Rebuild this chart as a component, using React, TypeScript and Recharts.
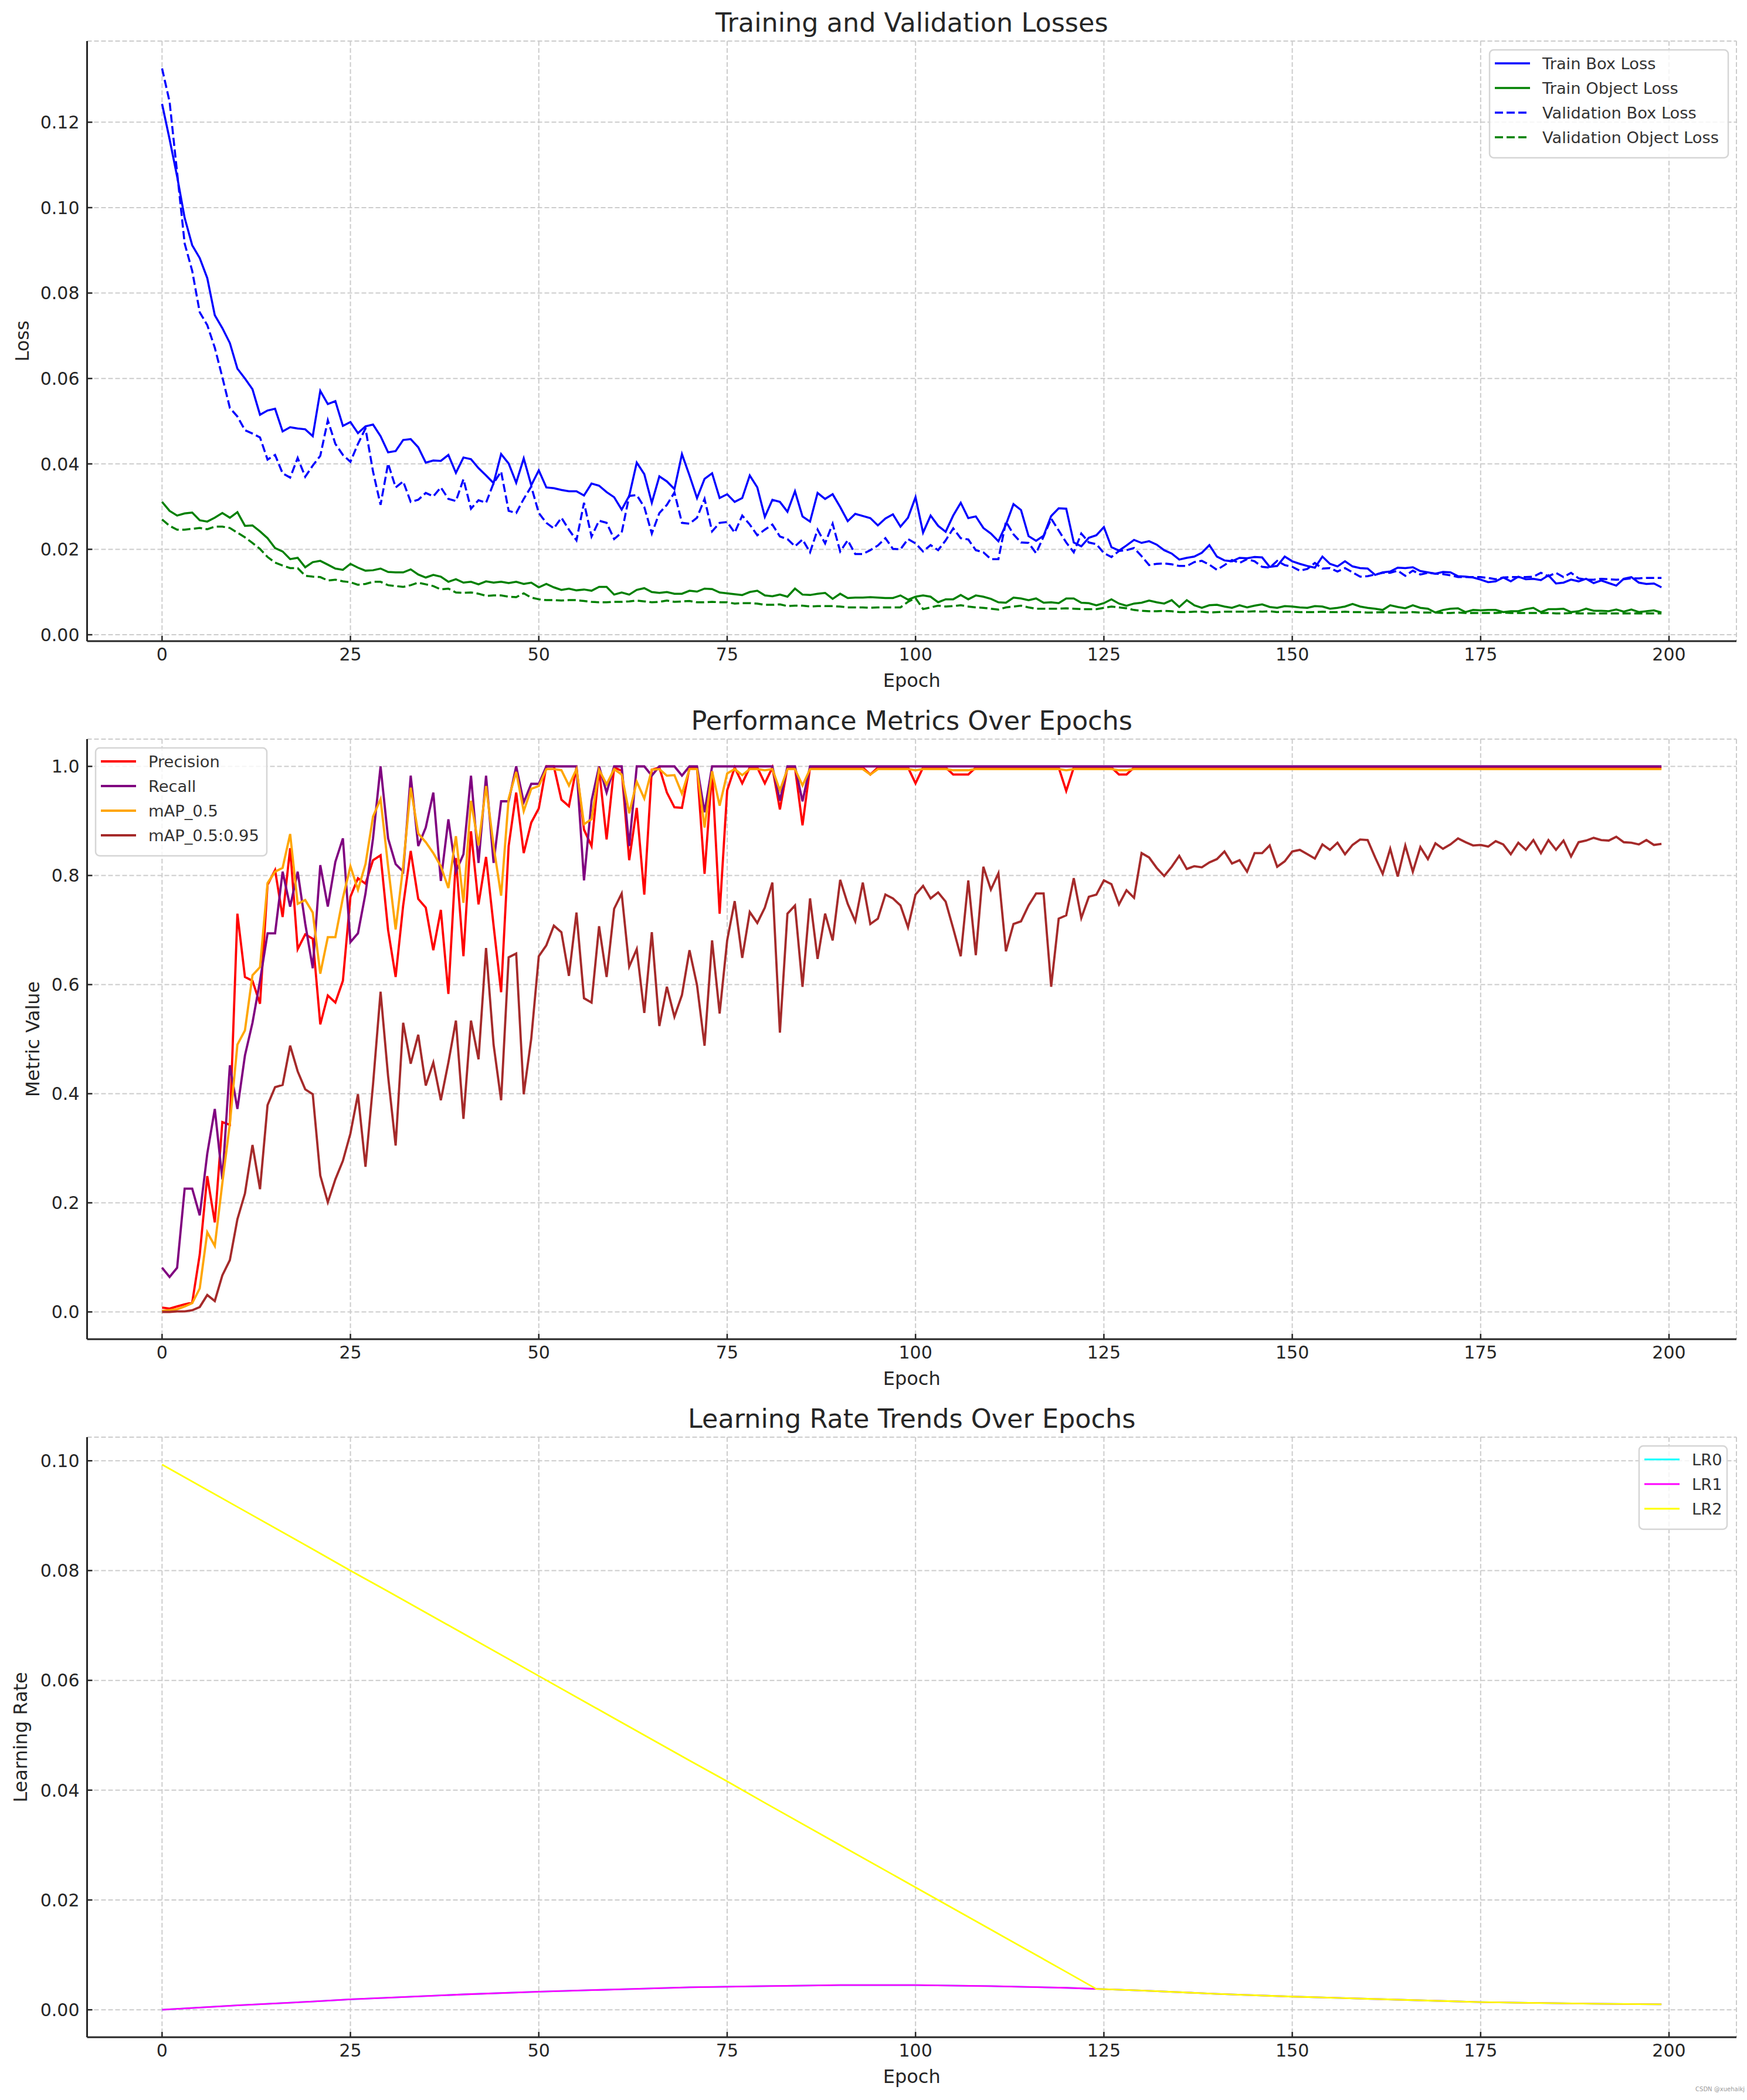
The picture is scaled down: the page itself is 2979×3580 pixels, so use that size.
import React from 'react';
import { CartesianGrid, Line, LineChart, XAxis, YAxis } from 'recharts';

const FONT = "'DejaVu Sans', 'Noto Sans', sans-serif";
const TEXT = '#262626';
const AXIS = '#262626';
const GRID = '#cccccc';

const W = 2979;
const PANEL_H = 1190;

// epochs 0..199
const epochs = Array.from({ length: 200 }, (_, i) => i);

const trainBoxLoss = [
  0.1243, 0.116, 0.1073, 0.0976, 0.0912, 0.0882, 0.0835, 0.0748, 0.0718, 0.0683,
  0.0623, 0.06, 0.0575, 0.0515, 0.0525, 0.0529, 0.0476, 0.0486, 0.0483, 0.0481,
  0.0465, 0.0571, 0.054, 0.0547, 0.0489, 0.0498, 0.0472, 0.0488, 0.0492, 0.0465,
  0.0427, 0.043, 0.0456, 0.0458, 0.0439, 0.0403, 0.0408, 0.0407, 0.0421, 0.0379,
  0.0415, 0.0411, 0.039, 0.0373, 0.0355, 0.0423, 0.0401, 0.0356, 0.0413, 0.035,
  0.0385, 0.0345, 0.0343, 0.0339, 0.0336, 0.0336, 0.0326, 0.0354, 0.0349, 0.0334,
  0.0322, 0.0293, 0.0325, 0.0403, 0.0376, 0.0309, 0.0371, 0.0359, 0.0341, 0.0423,
  0.0373, 0.032, 0.0365, 0.0378, 0.032, 0.0329, 0.0311, 0.032, 0.0373, 0.0345,
  0.0276, 0.0316, 0.0311, 0.0288, 0.0336, 0.0277, 0.0265, 0.0332, 0.0318, 0.0329,
  0.0299, 0.0266, 0.0283, 0.0278, 0.0273, 0.0256, 0.0272, 0.0282, 0.0253, 0.0274,
  0.0322, 0.0239, 0.0279, 0.0255, 0.0241, 0.0279, 0.0309, 0.0273, 0.0277, 0.025,
  0.0237, 0.0219, 0.0258, 0.0306, 0.0292, 0.0231, 0.022, 0.0232, 0.0278, 0.0296,
  0.0295, 0.0216, 0.0207, 0.0227, 0.0233, 0.0252, 0.0205, 0.0197, 0.0209, 0.0222,
  0.0215, 0.0219, 0.0211, 0.0198, 0.019, 0.0176, 0.018, 0.0183, 0.0192, 0.021,
  0.0183, 0.0174, 0.0172, 0.018, 0.0179, 0.0182, 0.0181, 0.0159, 0.0161, 0.0183,
  0.0172, 0.0166, 0.0161, 0.0157, 0.0183, 0.0166, 0.016, 0.0172, 0.016, 0.0156,
  0.0155, 0.014, 0.0146, 0.0148, 0.0157, 0.0156, 0.0158, 0.0149, 0.0146, 0.0143,
  0.0147, 0.0146, 0.0137, 0.0136, 0.0134, 0.0129, 0.0123, 0.0125, 0.0134, 0.0125,
  0.0136, 0.013, 0.0131, 0.0128, 0.0139, 0.012, 0.0122, 0.0129, 0.0125, 0.0131,
  0.0121, 0.0127, 0.0121, 0.0115, 0.0131, 0.0135, 0.0122, 0.0119, 0.012, 0.0111,
];

const trainObjLoss = [
  0.0311, 0.029, 0.0279, 0.0284, 0.0286, 0.0268, 0.0265, 0.0274, 0.0285, 0.0274,
  0.0287, 0.0255, 0.0256, 0.0242, 0.0226, 0.0203, 0.0195, 0.0177, 0.018, 0.0158,
  0.017, 0.0173, 0.0164, 0.0155, 0.0152, 0.0166, 0.0157, 0.015, 0.0151, 0.0155,
  0.0147, 0.0146, 0.0146, 0.0153, 0.0141, 0.0134, 0.014, 0.0136, 0.0124, 0.013,
  0.0122, 0.0124, 0.0118, 0.0125, 0.0122, 0.0124, 0.0121, 0.0124, 0.0119, 0.0122,
  0.0111, 0.0119, 0.0111, 0.0105, 0.0108, 0.0104, 0.0106, 0.0103, 0.0112, 0.0112,
  0.0094, 0.0099, 0.0094, 0.0105, 0.0109, 0.01, 0.0098, 0.01, 0.0096, 0.0096,
  0.0103, 0.0101, 0.0108, 0.0107, 0.0099, 0.0097, 0.0095, 0.0093, 0.01, 0.0103,
  0.0092, 0.009, 0.0094, 0.0089, 0.0108, 0.0094, 0.0093, 0.0096, 0.0098, 0.0084,
  0.0096, 0.0086, 0.0087, 0.0087, 0.0088, 0.0087, 0.0086, 0.0086, 0.0092, 0.0082,
  0.0089, 0.0092, 0.0089, 0.0076, 0.0083, 0.0083, 0.0093, 0.0083, 0.0092, 0.0089,
  0.0084, 0.0076, 0.0075, 0.0087, 0.0085, 0.0081, 0.0085, 0.0075, 0.0076, 0.0074,
  0.0085, 0.0085, 0.0075, 0.0074, 0.0069, 0.0074, 0.0083, 0.0073, 0.0068, 0.0073,
  0.0075, 0.008, 0.0076, 0.0073, 0.0081, 0.0065, 0.0081, 0.0069, 0.0063, 0.0069,
  0.007, 0.0066, 0.0063, 0.0069, 0.0064, 0.0068, 0.0071, 0.0065, 0.0063, 0.0067,
  0.0066, 0.0064, 0.0063, 0.0067, 0.0066, 0.0061, 0.0063, 0.0066, 0.0072, 0.0066,
  0.0063, 0.0061, 0.0058, 0.0069, 0.0065, 0.0062, 0.0069, 0.0063, 0.0061, 0.0052,
  0.0058, 0.0061, 0.0062, 0.0053, 0.0058, 0.0057, 0.0058, 0.0058, 0.0053, 0.0055,
  0.0055, 0.006, 0.0063, 0.0053, 0.006, 0.006, 0.0061, 0.0053, 0.0055, 0.0061,
  0.0056, 0.0056, 0.0055, 0.0059, 0.0054, 0.0059, 0.0053, 0.0055, 0.0057, 0.0052,
];

const valBoxLoss = [
  0.1326, 0.1248, 0.1082, 0.0916, 0.0852, 0.0755, 0.0725, 0.0672, 0.0603, 0.0531,
  0.0511, 0.0479, 0.0471, 0.0462, 0.041, 0.0421, 0.0378, 0.0368, 0.0414, 0.037,
  0.0396, 0.0419, 0.0502, 0.0447, 0.0421, 0.0405, 0.0447, 0.0483, 0.0382, 0.0304,
  0.0401, 0.0345, 0.0359, 0.0311, 0.0316, 0.0332, 0.0324, 0.0345, 0.0318, 0.0313,
  0.0364, 0.0295, 0.0315, 0.0309, 0.0355, 0.0382, 0.029, 0.0285, 0.0318, 0.0347,
  0.0285, 0.0262, 0.0249, 0.0274, 0.0246, 0.0221, 0.0309, 0.023, 0.0267, 0.0262,
  0.0224, 0.0239, 0.0325, 0.0327, 0.0299, 0.0237, 0.0285, 0.0304, 0.0333, 0.0262,
  0.026, 0.0274, 0.0318, 0.0242, 0.0262, 0.0264, 0.0239, 0.0279, 0.0258, 0.0233,
  0.0246, 0.0258, 0.023, 0.0224, 0.0207, 0.0223, 0.0193, 0.0246, 0.0214, 0.026,
  0.0195, 0.0221, 0.0189, 0.0189, 0.0198, 0.0209, 0.0226, 0.0201, 0.02, 0.0224,
  0.0214, 0.0195, 0.021, 0.0198, 0.0221, 0.0249, 0.0226, 0.0223, 0.0198, 0.0193,
  0.0177, 0.0177, 0.0265, 0.0235, 0.0216, 0.0215, 0.0191, 0.023, 0.0272, 0.0244,
  0.0216, 0.0193, 0.0237, 0.0216, 0.0212, 0.0191, 0.0182, 0.0196, 0.0198, 0.0203,
  0.0184, 0.0163, 0.0166, 0.0167, 0.0165, 0.0161, 0.0161, 0.017, 0.0173, 0.0164,
  0.0152, 0.0163, 0.0175, 0.0168, 0.0177, 0.0172, 0.0159, 0.0157, 0.0173, 0.0163,
  0.0159, 0.015, 0.0154, 0.0168, 0.0155, 0.0156, 0.0148, 0.0156, 0.0146, 0.0136,
  0.0137, 0.0141, 0.0145, 0.0145, 0.015, 0.0138, 0.015, 0.0141, 0.0145, 0.0143,
  0.0142, 0.0139, 0.0135, 0.0135, 0.0135, 0.0135, 0.0133, 0.013, 0.0134, 0.0135,
  0.0135, 0.0135, 0.0136, 0.0145, 0.0137, 0.0145, 0.0135, 0.0145, 0.0132, 0.0129,
  0.0129, 0.0131, 0.013, 0.0129, 0.013, 0.0132, 0.0132, 0.0133, 0.0133, 0.0133,
];

const valObjLoss = [
  0.027, 0.0255, 0.0246, 0.0246, 0.0248, 0.025, 0.0247, 0.0253, 0.0253, 0.025,
  0.0239, 0.0228, 0.0215, 0.0201, 0.0182, 0.0169, 0.0162, 0.0156, 0.0156, 0.0138,
  0.0136, 0.0135, 0.0127, 0.0129, 0.0125, 0.0123, 0.0117, 0.0119, 0.0124, 0.0124,
  0.0116, 0.0114, 0.0112, 0.0116, 0.0122, 0.0118, 0.0114, 0.0106, 0.0108, 0.0099,
  0.0098, 0.0099, 0.0096, 0.0091, 0.0092, 0.0092, 0.0089, 0.0088, 0.0097, 0.0087,
  0.0083, 0.0081, 0.0081, 0.008, 0.0081, 0.0081, 0.0079, 0.0077, 0.0076, 0.0076,
  0.0077, 0.0077, 0.0078, 0.008, 0.0078, 0.0076, 0.0077, 0.008, 0.0077, 0.0078,
  0.0079, 0.0076, 0.0076, 0.0077, 0.0076, 0.0076, 0.0073, 0.0074, 0.0074, 0.0073,
  0.007, 0.007, 0.0071, 0.0067, 0.0068, 0.0068, 0.0066, 0.0067, 0.0067, 0.0067,
  0.0066, 0.0064, 0.0064, 0.0064, 0.0063, 0.0064, 0.0064, 0.0064, 0.0064, 0.0077,
  0.0086, 0.006, 0.0064, 0.0068, 0.0066, 0.0067, 0.0069, 0.0066, 0.0064, 0.0063,
  0.0061, 0.0059, 0.0064, 0.0066, 0.0068, 0.0064, 0.0061, 0.0061, 0.0061, 0.0061,
  0.0062, 0.0061, 0.006, 0.006, 0.006, 0.0063, 0.0066, 0.0064, 0.0062, 0.0058,
  0.0056, 0.0055, 0.0055, 0.0056, 0.0055, 0.0053, 0.0053, 0.0054, 0.0054, 0.0052,
  0.0053, 0.0054, 0.0054, 0.0054, 0.0054, 0.0055, 0.0054, 0.0055, 0.0053, 0.0054,
  0.0054, 0.0053, 0.0053, 0.0053, 0.0054, 0.0053, 0.0053, 0.0054, 0.0053, 0.0053,
  0.0052, 0.0052, 0.0053, 0.0052, 0.0052, 0.0052, 0.0053, 0.0052, 0.0052, 0.0052,
  0.0051, 0.0051, 0.0052, 0.0051, 0.0051, 0.0051, 0.0051, 0.0051, 0.0052, 0.0051,
  0.0051, 0.0051, 0.0051, 0.0051, 0.0051, 0.005, 0.005, 0.0051, 0.005, 0.005,
  0.005, 0.005, 0.005, 0.005, 0.005, 0.005, 0.005, 0.005, 0.005, 0.005,
];

const precision = [
  0.008, 0.006, 0.01, 0.014, 0.017, 0.105, 0.249, 0.164, 0.348, 0.343,
  0.73, 0.614, 0.607, 0.565, 0.783, 0.81, 0.724, 0.85, 0.665, 0.692,
  0.684, 0.527, 0.58, 0.567, 0.607, 0.761, 0.795, 0.785, 0.828, 0.837,
  0.7, 0.614, 0.745, 0.845, 0.757, 0.741, 0.663, 0.737, 0.583, 0.832,
  0.652, 0.881, 0.747, 0.834, 0.708, 0.586, 0.854, 0.952, 0.841, 0.897,
  0.923, 1.0, 1.0, 0.939, 0.927, 0.998, 0.884, 0.854, 0.996, 0.866,
  0.998, 0.992, 0.828, 0.924, 0.765, 0.994, 0.998, 0.952, 0.925, 0.924,
  0.998, 0.998, 0.803, 0.991, 0.73, 0.956, 0.998, 0.969, 0.998, 0.998,
  0.969, 0.998, 0.921, 0.998, 0.998, 0.892, 0.998, 0.998, 0.998, 0.998,
  0.998, 0.998, 0.998, 0.998, 0.985, 0.998, 0.998, 0.998, 0.998, 0.998,
  0.969, 0.998, 0.998, 0.998, 0.998, 0.985, 0.985, 0.985, 0.998, 0.998,
  0.998, 0.998, 0.998, 0.998, 0.998, 0.998, 0.998, 0.998, 0.998, 0.998,
  0.955, 0.998, 0.998, 0.998, 0.998, 0.998, 0.998, 0.985, 0.985, 0.998,
  0.998, 0.998, 0.998, 0.998, 0.998, 0.998, 0.998, 0.998, 0.998, 0.998,
  0.998, 0.998, 0.998, 0.998, 0.998, 0.998, 0.998, 0.998, 0.998, 0.998,
  0.998, 0.998, 0.998, 0.998, 0.998, 0.998, 0.998, 0.998, 0.998, 0.998,
  0.998, 0.998, 0.998, 0.998, 0.998, 0.998, 0.998, 0.998, 0.998, 0.998,
  0.998, 0.998, 0.998, 0.998, 0.998, 0.998, 0.998, 0.998, 0.998, 0.998,
  0.998, 0.998, 0.998, 0.998, 0.998, 0.998, 0.998, 0.998, 0.998, 0.998,
  0.998, 0.998, 0.998, 0.998, 0.998, 0.998, 0.998, 0.998, 0.998, 0.998,
];

const recall = [
  0.081, 0.064, 0.081, 0.226, 0.226, 0.177, 0.29, 0.372, 0.243, 0.452,
  0.372, 0.47, 0.53, 0.607, 0.694, 0.694, 0.807, 0.743, 0.807, 0.712,
  0.63, 0.819, 0.743, 0.825, 0.868, 0.678, 0.694, 0.767, 0.868, 1.0,
  0.868, 0.821, 0.807, 0.983, 0.854, 0.888, 0.952, 0.79, 0.903, 0.807,
  0.839, 0.983, 0.823, 0.983, 0.823, 0.936, 0.936, 1.0, 0.934, 0.968,
  0.968, 1.0, 1.0, 1.0, 1.0, 1.0, 0.791, 0.937, 1.0, 0.952,
  1.0, 1.0, 0.854, 1.0, 1.0, 0.983, 1.0, 1.0, 1.0, 0.983,
  1.0, 1.0, 0.916, 1.0, 1.0, 1.0, 1.0, 1.0, 1.0, 1.0,
  1.0, 1.0, 0.937, 1.0, 1.0, 0.936, 1.0, 1.0, 1.0, 1.0,
  1.0, 1.0, 1.0, 1.0, 1.0, 1.0, 1.0, 1.0, 1.0, 1.0,
  1.0, 1.0, 1.0, 1.0, 1.0, 1.0, 1.0, 1.0, 1.0, 1.0,
  1.0, 1.0, 1.0, 1.0, 1.0, 1.0, 1.0, 1.0, 1.0, 1.0,
  1.0, 1.0, 1.0, 1.0, 1.0, 1.0, 1.0, 1.0, 1.0, 1.0,
  1.0, 1.0, 1.0, 1.0, 1.0, 1.0, 1.0, 1.0, 1.0, 1.0,
  1.0, 1.0, 1.0, 1.0, 1.0, 1.0, 1.0, 1.0, 1.0, 1.0,
  1.0, 1.0, 1.0, 1.0, 1.0, 1.0, 1.0, 1.0, 1.0, 1.0,
  1.0, 1.0, 1.0, 1.0, 1.0, 1.0, 1.0, 1.0, 1.0, 1.0,
  1.0, 1.0, 1.0, 1.0, 1.0, 1.0, 1.0, 1.0, 1.0, 1.0,
  1.0, 1.0, 1.0, 1.0, 1.0, 1.0, 1.0, 1.0, 1.0, 1.0,
  1.0, 1.0, 1.0, 1.0, 1.0, 1.0, 1.0, 1.0, 1.0, 1.0,
];

const map50 = [
  0.002, 0.003, 0.005, 0.01, 0.016, 0.043, 0.146, 0.121, 0.236, 0.345,
  0.49, 0.516, 0.617, 0.632, 0.786, 0.807, 0.814, 0.876, 0.748, 0.755,
  0.732, 0.62, 0.687, 0.687, 0.759, 0.817, 0.774, 0.821, 0.908, 0.94,
  0.817, 0.701, 0.817, 0.961, 0.877, 0.861, 0.841, 0.817, 0.777, 0.872,
  0.75, 0.937, 0.855, 0.964, 0.854, 0.763, 0.941, 0.99, 0.918, 0.959,
  0.964, 0.995, 0.995, 0.993, 0.965, 0.995, 0.894, 0.903, 0.994, 0.967,
  0.995, 0.985, 0.914, 0.972, 0.941, 0.994, 0.995, 0.983, 0.984, 0.95,
  0.995, 0.995, 0.888, 0.991, 0.928, 0.987, 0.995, 0.984, 0.995, 0.995,
  0.993, 0.995, 0.956, 0.995, 0.995, 0.965, 0.995, 0.995, 0.995, 0.995,
  0.995, 0.995, 0.995, 0.995, 0.985, 0.995, 0.995, 0.995, 0.995, 0.995,
  0.993, 0.995, 0.995, 0.995, 0.995, 0.993, 0.993, 0.993, 0.995, 0.995,
  0.995, 0.995, 0.995, 0.995, 0.995, 0.995, 0.995, 0.995, 0.995, 0.995,
  0.993, 0.995, 0.995, 0.995, 0.995, 0.995, 0.995, 0.993, 0.993, 0.995,
  0.995, 0.995, 0.995, 0.995, 0.995, 0.995, 0.995, 0.995, 0.995, 0.995,
  0.995, 0.995, 0.995, 0.995, 0.995, 0.995, 0.995, 0.995, 0.995, 0.995,
  0.995, 0.995, 0.995, 0.995, 0.995, 0.995, 0.995, 0.995, 0.995, 0.995,
  0.995, 0.995, 0.995, 0.995, 0.995, 0.995, 0.995, 0.995, 0.995, 0.995,
  0.995, 0.995, 0.995, 0.995, 0.995, 0.995, 0.995, 0.995, 0.995, 0.995,
  0.995, 0.995, 0.995, 0.995, 0.995, 0.995, 0.995, 0.995, 0.995, 0.995,
  0.995, 0.995, 0.995, 0.995, 0.995, 0.995, 0.995, 0.995, 0.995, 0.995,
];

const map5095 = [
  0.0, 0.0, 0.001, 0.001, 0.003, 0.009, 0.031, 0.02, 0.067, 0.095,
  0.17, 0.217, 0.306, 0.225, 0.379, 0.412, 0.416, 0.488, 0.441, 0.408,
  0.399, 0.25, 0.201, 0.243, 0.277, 0.327, 0.399, 0.266, 0.417, 0.587,
  0.432, 0.305, 0.53, 0.455, 0.508, 0.415, 0.457, 0.388, 0.457, 0.534,
  0.354, 0.534, 0.463, 0.667, 0.49, 0.388, 0.65, 0.657, 0.399, 0.501,
  0.652, 0.672, 0.708, 0.696, 0.616, 0.732, 0.575, 0.567, 0.707, 0.614,
  0.739, 0.767, 0.633, 0.665, 0.548, 0.696, 0.524, 0.596, 0.541, 0.581,
  0.663, 0.599, 0.488, 0.681, 0.547, 0.681, 0.753, 0.649, 0.733, 0.713,
  0.741, 0.787, 0.512, 0.73, 0.745, 0.596, 0.758, 0.647, 0.73, 0.681,
  0.792, 0.748, 0.716, 0.787, 0.711, 0.721, 0.765, 0.758, 0.745, 0.705,
  0.765, 0.781, 0.758, 0.769, 0.752, 0.703, 0.652, 0.791, 0.654, 0.816,
  0.774, 0.804, 0.661, 0.711, 0.716, 0.745, 0.767, 0.767, 0.596, 0.721,
  0.727, 0.795, 0.722, 0.761, 0.765, 0.791, 0.784, 0.747, 0.773, 0.759,
  0.841, 0.833, 0.814, 0.799, 0.816, 0.836, 0.812, 0.817, 0.815, 0.824,
  0.83, 0.844, 0.822, 0.828, 0.807, 0.841, 0.841, 0.855, 0.816, 0.826,
  0.844, 0.847, 0.839, 0.831, 0.857, 0.847, 0.86, 0.839, 0.856, 0.866,
  0.865, 0.833, 0.803, 0.849, 0.798, 0.855, 0.807, 0.852, 0.83, 0.859,
  0.849, 0.857, 0.868, 0.861, 0.855, 0.856, 0.853, 0.863, 0.857, 0.839,
  0.86, 0.847, 0.865, 0.841, 0.865, 0.847, 0.864, 0.835, 0.861, 0.864,
  0.869, 0.865, 0.864, 0.871, 0.861, 0.86, 0.857, 0.865, 0.856, 0.858,
];

// learning rates, read at these epochs
const lrEpochs = [0, 10, 20, 25, 30, 40, 50, 60, 70, 75, 80, 90, 100, 110, 120, 124, 130, 140, 150, 160, 170, 175, 180, 190, 199];
const lr0 = [0, 0.0008, 0.0015, 0.0019, 0.0022, 0.0028, 0.0033, 0.0037, 0.0041, 0.0042, 0.0043, 0.0045, 0.0045, 0.0043, 0.004, 0.0038, 0.0035, 0.0029, 0.0024, 0.002, 0.0016, 0.0014, 0.0013, 0.0011, 0.001];
const lr1 = [0, 0.0008, 0.0015, 0.0019, 0.0022, 0.0028, 0.0033, 0.0037, 0.0041, 0.0042, 0.0043, 0.0045, 0.0045, 0.0043, 0.004, 0.0038, 0.0035, 0.0029, 0.0024, 0.002, 0.0016, 0.0014, 0.0013, 0.0011, 0.001];
const lr2 = [0.0993, 0.0916, 0.0839, 0.08, 0.0762, 0.0685, 0.0608, 0.0531, 0.0454, 0.0416, 0.0377, 0.03, 0.0223, 0.0146, 0.0069, 0.0038, 0.0035, 0.0029, 0.0024, 0.002, 0.0016, 0.0014, 0.0013, 0.0011, 0.001];

const epochTicks = [0, 25, 50, 75, 100, 125, 150, 175, 200];
const lossTicks = [0, 0.02, 0.04, 0.06, 0.08, 0.1, 0.12];
const metricTicks = [0, 0.2, 0.4, 0.6, 0.8, 1.0];
const lrTicks = [0, 0.02, 0.04, 0.06, 0.08, 0.1];

const lossData = epochs.map((e, i) => ({
  epoch: e,
  trainBox: trainBoxLoss[i],
  trainObj: trainObjLoss[i],
  valBox: valBoxLoss[i],
  valObj: valObjLoss[i],
}));

const metricData = epochs.map((e, i) => ({
  epoch: e,
  precision: precision[i],
  recall: recall[i],
  map50: map50[i],
  map5095: map5095[i],
}));

const lrData = lrEpochs.map((e, i) => ({ epoch: e, lr0: lr0[i], lr1: lr1[i], lr2: lr2[i] }));

interface SeriesDef {
  key: string;
  name: string;
  color: string;
  dashed?: boolean;
}

interface PanelProps {
  top: number;
  data: any[];
  series: SeriesDef[];
  yDomain: [number, number];
  yTicks: number[];
  yDigits: number;
  title: string;
  yLabel: string;
  yLabelX: number;
  legendX: number;
  legendW: number;
  lineWidth: number;
}

const PLOT_TOP = 70;
const PLOT_BOTTOM = 1093;
const PLOT_LEFT = 148.5;
const PLOT_RIGHT = 2961;
const DASH = '14 6';

function makeXTick(props: any) {
  const { x, y, payload } = props;
  return (
    <g>
      <line x1={x} y1={y} x2={x} y2={y - 9} stroke={AXIS} strokeWidth={2.5} />
      <text x={x} y={y + 33} textAnchor="middle" fontSize={30} fill={TEXT} fontFamily={FONT}>
        {payload.value}
      </text>
    </g>
  );
}

function Panel(p: PanelProps) {
  const yTick = (props: any) => {
    const { x, y, payload } = props;
    return (
      <g>
        <line x1={x} y1={y} x2={x + 9} y2={y} stroke={AXIS} strokeWidth={2.5} />
        <text x={x - 13} y={y} dy="0.36em" textAnchor="end" fontSize={30} fill={TEXT} fontFamily={FONT}>
          {Number(payload.value).toFixed(p.yDigits)}
        </text>
      </g>
    );
  };

  const midY = (PLOT_TOP + PLOT_BOTTOM) / 2;
  const legendTop = 85;
  const rowGap = 42;
  const legendH = 20 + p.series.length * rowGap - 4;

  return (
    <div style={{ position: 'absolute', left: 0, top: p.top, width: W, height: PANEL_H }}>
      <LineChart
        width={W}
        height={PANEL_H}
        data={p.data}
        margin={{ top: PLOT_TOP, right: W - PLOT_RIGHT, bottom: PANEL_H - PLOT_BOTTOM - 40, left: 0 }}
      >
        <CartesianGrid stroke={GRID} strokeDasharray="8 4" strokeWidth={2} />
        <XAxis
          dataKey="epoch"
          type="number"
          domain={[-9.95, 208.95]}
          allowDataOverflow
          ticks={epochTicks}
          interval={0}
          height={40}
          tickSize={0}
          tickMargin={0}
          tickLine={false}
          axisLine={{ stroke: AXIS, strokeWidth: 3 }}
          tick={makeXTick}
        />
        <YAxis
          type="number"
          domain={p.yDomain}
          allowDataOverflow
          ticks={p.yTicks}
          interval={0}
          width={PLOT_LEFT}
          tickSize={0}
          tickMargin={0}
          tickLine={false}
          axisLine={{ stroke: AXIS, strokeWidth: 3 }}
          tick={yTick}
        />
        {p.series.map((s) => (
          <Line
            key={s.key}
            type="linear"
            dataKey={s.key}
            name={s.name}
            stroke={s.color}
            strokeWidth={p.lineWidth}
            strokeDasharray={s.dashed ? DASH : undefined}
            dot={false}
            activeDot={false}
            isAnimationActive={false}
          />
        ))}
      </LineChart>
      <svg
        width={W}
        height={PANEL_H}
        style={{ position: 'absolute', left: 0, top: 0, pointerEvents: 'none' }}
        fontFamily={FONT}
      >
        <text x={(PLOT_LEFT + PLOT_RIGHT) / 2} y={54} textAnchor="middle" fontSize={44.5} fill={TEXT}>
          {p.title}
        </text>
        <text
          x={p.yLabelX}
          y={midY}
          textAnchor="middle"
          dy="0.36em"
          fontSize={32}
          fill={TEXT}
          transform={`rotate(-90 ${p.yLabelX} ${midY})`}
        >
          {p.yLabel}
        </text>
        <text x={(PLOT_LEFT + PLOT_RIGHT) / 2} y={PLOT_BOTTOM + 78} textAnchor="middle" fontSize={32} fill={TEXT}>
          Epoch
        </text>
        <rect
          x={p.legendX}
          y={legendTop}
          width={p.legendW}
          height={legendH}
          rx={7}
          fill="#ffffff"
          fillOpacity={0.8}
          stroke="#d5d5d5"
          strokeWidth={2.5}
        />
        {p.series.map((s, i) => {
          const cy = legendTop + 23 + i * rowGap;
          return (
            <g key={s.key}>
              <line
                x1={p.legendX + 9}
                x2={p.legendX + 69}
                y1={cy}
                y2={cy}
                stroke={s.color}
                strokeWidth={p.lineWidth}
                strokeDasharray={s.dashed ? DASH : undefined}
              />
              <text x={p.legendX + 90} y={cy} dy="0.36em" fontSize={27.3} fill="#333333">
                {s.name}
              </text>
            </g>
          );
        })}
      </svg>
    </div>
  );
}

const lossSeries: SeriesDef[] = [
  { key: 'trainBox', name: 'Train Box Loss', color: '#0000ff' },
  { key: 'trainObj', name: 'Train Object Loss', color: '#008000' },
  { key: 'valBox', name: 'Validation Box Loss', color: '#0000ff', dashed: true },
  { key: 'valObj', name: 'Validation Object Loss', color: '#008000', dashed: true },
];

const metricSeries: SeriesDef[] = [
  { key: 'precision', name: 'Precision', color: '#ff0000' },
  { key: 'recall', name: 'Recall', color: '#800080' },
  { key: 'map50', name: 'mAP_0.5', color: '#ffa500' },
  { key: 'map5095', name: 'mAP_0.5:0.95', color: '#a52a2a' },
];

const lrSeries: SeriesDef[] = [
  { key: 'lr0', name: 'LR0', color: '#00ffff' },
  { key: 'lr1', name: 'LR1', color: '#ff00ff' },
  { key: 'lr2', name: 'LR2', color: '#ffff00' },
];

export default function App() {
  return (
    <div style={{ position: 'absolute', left: 0, top: 0, width: W, height: 3580, background: '#ffffff' }}>
      <Panel
        top={0}
        data={lossData}
        series={lossSeries}
        yDomain={[-0.0015, 0.139]}
        yTicks={lossTicks}
        yDigits={2}
        title="Training and Validation Losses"
        yLabel="Loss"
        yLabelX={37}
        legendX={2540}
        legendW={407}
        lineWidth={3.5}
      />
      <Panel
        top={1190}
        data={metricData}
        series={metricSeries}
        yDomain={[-0.05, 1.05]}
        yTicks={metricTicks}
        yDigits={1}
        title="Performance Metrics Over Epochs"
        yLabel="Metric Value"
        yLabelX={55}
        legendX={163}
        legendW={292}
        lineWidth={3.8}
      />
      <Panel
        top={2380}
        data={lrData}
        series={lrSeries}
        yDomain={[-0.005, 0.1043]}
        yTicks={lrTicks}
        yDigits={2}
        title="Learning Rate Trends Over Epochs"
        yLabel="Learning Rate"
        yLabelX={34}
        legendX={2795}
        legendW={150}
        lineWidth={2.8}
      />
      <div
        style={{
          position: 'absolute',
          right: 4,
          top: 3556,
          fontSize: 10,
          color: '#9a9a9a',
          fontFamily: FONT,
        }}
      >
        CSDN @xuehaikj
      </div>
    </div>
  );
}
